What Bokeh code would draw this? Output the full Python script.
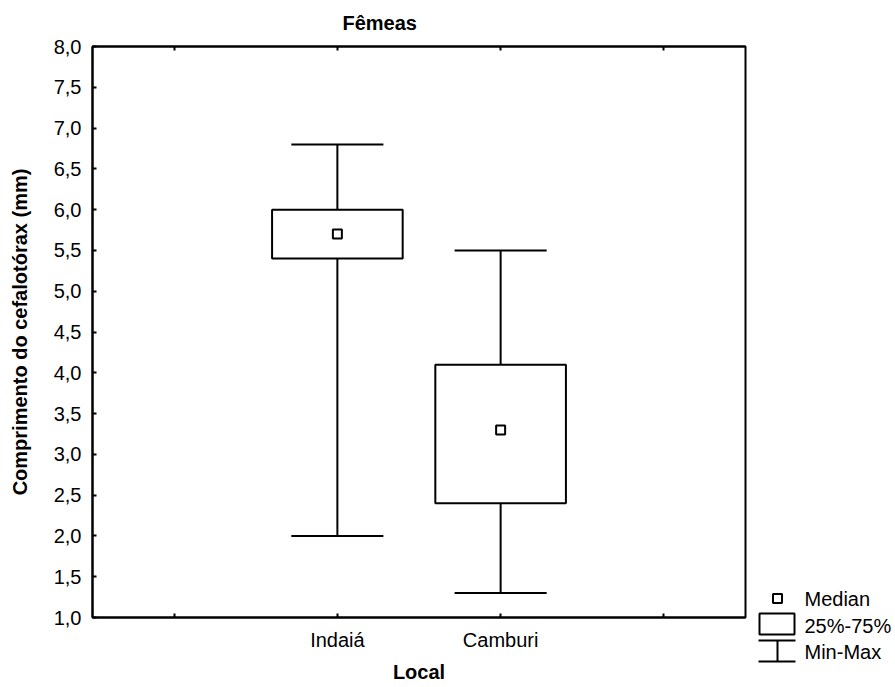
from bokeh.plotting import figure
from bokeh.models import Range1d, LinearAxis, FixedTicker, Spacer
from bokeh.layouts import row, column
from bokeh.embed import file_html
from bokeh.resources import INLINE
from bokeh.core.properties import value

# ---- data ----
categories = ["Indaiá", "Camburi"]
cat_pos = [1, 2]
minimum = [2.0, 1.3]
q1 = [5.4, 2.4]
median = [5.7, 3.3]
q3 = [6.0, 4.1]
maximum = [6.8, 5.5]

y_ticks = [1.0, 1.5, 2.0, 2.5, 3.0, 3.5, 4.0, 4.5, 5.0, 5.5, 6.0, 6.5, 7.0, 7.5, 8.0]
y_tick_labels = ["1,0", "1,5", "2,0", "2,5", "3,0", "3,5", "4,0", "4,5",
                 "5,0", "5,5", "6,0", "6,5", "7,0", "7,5", "8,0"]
x_slot_ticks = [0, 1, 2, 3]          # tick marks along the x frame
legend_labels = ["Median", "25%-75%", "Min-Max"]

title_text = "Fêmeas"
x_label = "Local"
y_label = "Comprimento do cefalotórax (mm)"

# ---- style / layout ----
FONT = "Liberation Sans"
FS = "20px"
BOX_W = 0.8
CAP_W = 0.564
LW = 2

H = 686
FL, FR, FT, FB = 92, 745, 45, 617          # frame edges in pixels
MAIN_W = 749

p = figure(width=MAIN_W, height=H,
           x_range=Range1d(-0.5, 3.5), y_range=Range1d(1.0, 8.0),
           output_backend="svg", toolbar_location=None,
           min_border_left=FL, min_border_right=MAIN_W - FR,
           min_border_top=FT, min_border_bottom=H - FB)
p.xgrid.visible = False
p.ygrid.visible = False
p.outline_line_color = "black"
p.outline_line_width = LW
p.background_fill_color = "white"
p.border_fill_color = "white"

# title
p.title.text = title_text
p.title.align = "left"
p.title.offset = 250
p.title.standoff = 22
p.title.vertical_align = "top"
p.title.text_line_height = 0.9
p.title.text_font = FONT
p.title.text_font_size = FS
p.title.text_font_style = "bold"
p.title.text_color = "black"

# x axis (bottom): labelled ticks at categories, unlabelled marks between
xa = p.xaxis[0]
xa.ticker = FixedTicker(ticks=cat_pos,
                        minor_ticks=[t for t in x_slot_ticks if t not in cat_pos])
xa.major_label_overrides = {float(t): l for t, l in zip(cat_pos, categories)}
xa.major_tick_in = 4
xa.major_tick_out = 0
xa.major_tick_line_width = LW
xa.minor_tick_in = 4
xa.minor_tick_out = 0
xa.minor_tick_line_width = LW
xa.axis_line_width = LW
xa.major_label_standoff = 11
xa.major_label_text_font = FONT
xa.major_label_text_font_size = FS
xa.major_label_text_color = "black"
xa.axis_label = x_label
xa.axis_label_text_font = FONT
xa.axis_label_text_font_size = FS
xa.axis_label_text_font_style = "bold"
xa.axis_label_text_color = "black"
xa.axis_label_standoff = 7

# y axis (left)
ya = p.yaxis[0]
ya.ticker = FixedTicker(ticks=y_ticks)
ya.major_label_overrides = {float(t): l for t, l in zip(y_ticks, y_tick_labels)}
ya.major_tick_in = 4
ya.major_tick_out = 0
ya.major_tick_line_width = LW
ya.minor_tick_line_color = None
ya.axis_line_width = LW
ya.major_label_standoff = 11
ya.major_label_text_font = FONT
ya.major_label_text_font_size = FS
ya.major_label_text_color = "black"
ya.axis_label = y_label
ya.axis_label_text_font = FONT
ya.axis_label_text_font_size = FS
ya.axis_label_text_font_style = "bold"
ya.axis_label_text_color = "black"
ya.axis_label_standoff = 20

# top axis: inward tick marks only
top = LinearAxis(ticker=FixedTicker(ticks=[], minor_ticks=x_slot_ticks),
                 major_tick_line_color=None,
                 minor_tick_in=4, minor_tick_out=0,
                 minor_tick_line_width=LW,
                 axis_line_width=LW, major_label_standoff=0)
p.add_layout(top, "above")

# whiskers
p.segment(x0=cat_pos, y0=q3, x1=cat_pos, y1=maximum, line_color="black", line_width=LW)
p.segment(x0=cat_pos, y0=q1, x1=cat_pos, y1=minimum, line_color="black", line_width=LW)
cap_l = [c - CAP_W / 2 for c in cat_pos]
cap_r = [c + CAP_W / 2 for c in cat_pos]
p.segment(x0=cap_l, y0=maximum, x1=cap_r, y1=maximum, line_color="black", line_width=LW)
p.segment(x0=cap_l, y0=minimum, x1=cap_r, y1=minimum, line_color="black", line_width=LW)

# boxes
p.vbar(x=cat_pos, width=BOX_W, bottom=q1, top=q3,
       fill_color="white", line_color="black", line_width=LW)

# medians
p.scatter(x=cat_pos, y=median, marker="square", size=9,
          fill_color="white", line_color="black", line_width=LW)

# ---- legend key: small pixel-space figure at the lower right ----
LX0, LY0, LW_, LH_ = MAIN_W, 584, 145, 84      # legend panel placement (pixels)
lf = figure(width=LW_, height=LH_,
            x_range=Range1d(LX0, LX0 + LW_), y_range=Range1d(LY0 + LH_, LY0),
            output_backend="svg", toolbar_location=None, title_location=None,
            x_axis_location=None, y_axis_location=None,
            min_border=0, min_border_left=0, min_border_right=0,
            min_border_top=0, min_border_bottom=0, outline_line_color=None)
lf.xgrid.visible = False
lf.ygrid.visible = False
lf.background_fill_color = "white"
lf.border_fill_color = "white"

lf.scatter(x=[777], y=[598], marker="square", size=9,
           fill_color="white", line_color="black", line_width=LW)
lf.quad(left=[759], right=[794], top=[613], bottom=[634],
        fill_color="white", line_color="black", line_width=LW)
lf.segment(x0=[758, 758, 777], y0=[640, 661, 640], x1=[795, 795, 777], y1=[640, 661, 661],
           line_color="black", line_width=LW)
lf.text(x=[804, 804, 804], y=[598, 625, 651], text=legend_labels,
        text_font=value(FONT), text_font_size=value(FS),
        text_baseline="middle", text_align="left", text_color="black")

layout = row(p, column(Spacer(width=LW_, height=LY0), lf))

with open("out.html", "w") as f:
    f.write(file_html(layout, INLINE))
